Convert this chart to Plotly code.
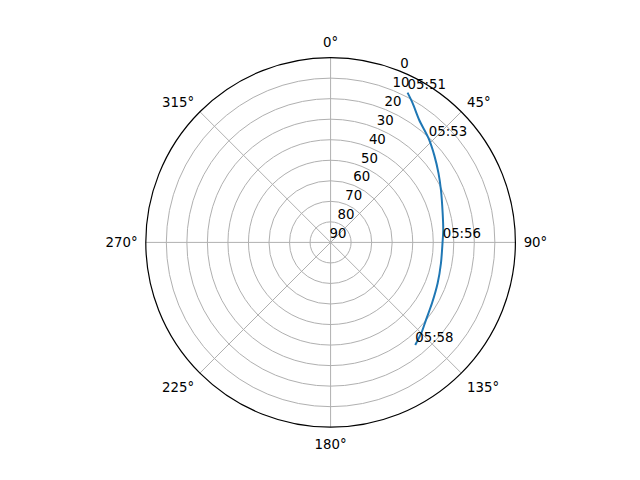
import plotly.graph_objects as go

# Satellite pass track: azimuth (deg, clockwise from north) and elevation (deg)
azimuth = [27.2, 30.5, 35.9, 43.3, 49.9, 57.4, 64.6, 75.4, 83.7, 90.5,
           100.7, 110.9, 121.0, 129.2, 134.8, 140.5]
elevation = [8.0, 11.3, 16.4, 20.4, 24.0, 27.6, 30.5, 33.6, 34.8, 35.5,
             35.3, 34.2, 32.4, 30.1, 27.6, 25.2]

# Time labels along the track
label_times = ["05:51", "05:53", "05:56", "05:58"]
label_az = [27.2, 43.5, 89.5, 140.5]
label_el = [8.0, 20.5, 35.4, 25.2]

angle_ticks = [0, 45, 90, 135, 180, 225, 270, 315]
angle_labels = [f"{a}°" for a in angle_ticks]
radial_ticks = [0, 10, 20, 30, 40, 50, 60, 70, 80, 90]

FONT = dict(family="DejaVu Sans", size=13.3, color="black")

fig = go.Figure()
fig.add_trace(go.Scatterpolar(
    r=elevation, theta=azimuth, mode="lines",
    line=dict(color="#1f77b4", width=2, shape="spline", smoothing=0.8),
    showlegend=False, subplot="polar",
))
fig.add_trace(go.Scatterpolar(
    r=label_el, theta=label_az, mode="text", text=label_times,
    textposition="top right", textfont=FONT,
    showlegend=False, subplot="polar",
))
# empty trace so the overlay polar (radial tick labels only) is drawn
fig.add_trace(go.Scatterpolar(r=[], theta=[], showlegend=False, subplot="polar2"))

fig.update_layout(
    width=640, height=480,
    margin=dict(l=0, r=0, t=0, b=0),
    paper_bgcolor="white",
    font=FONT,
    polar=dict(
        domain=dict(x=[0.2153, 0.7928], y=[0.12667, 0.89667]),
        bgcolor="white",
        angularaxis=dict(
            rotation=90, direction="clockwise",
            tickvals=angle_ticks, ticktext=angle_labels,
            showline=True, linecolor="black", linewidth=1.2,
            gridcolor="#b0b0b0", gridwidth=1,
            ticks="outside", ticklen=5, tickcolor="rgba(0,0,0,0)",
            tickfont=FONT,
        ),
        radialaxis=dict(
            range=[90, 0], tickvals=radial_ticks,
            angle=67.5, showline=False, ticks="", showticklabels=False,
            gridcolor="#b0b0b0", gridwidth=1,
        ),
    ),
    polar2=dict(
        domain=dict(x=[0.20344, 0.78094], y=[0.15458, 0.92458]),
        bgcolor="rgba(0,0,0,0)",
        angularaxis=dict(rotation=90, direction="clockwise", visible=False,
                         showgrid=False, showline=False),
        radialaxis=dict(
            range=[90, 0],
            tickvals=radial_ticks, ticktext=[str(v) for v in radial_ticks],
            angle=67.5, tickangle=67.5,
            showline=False, showgrid=False, ticks="",
            tickfont=FONT,
        ),
    ),
)

fig.write_html("out.html")
